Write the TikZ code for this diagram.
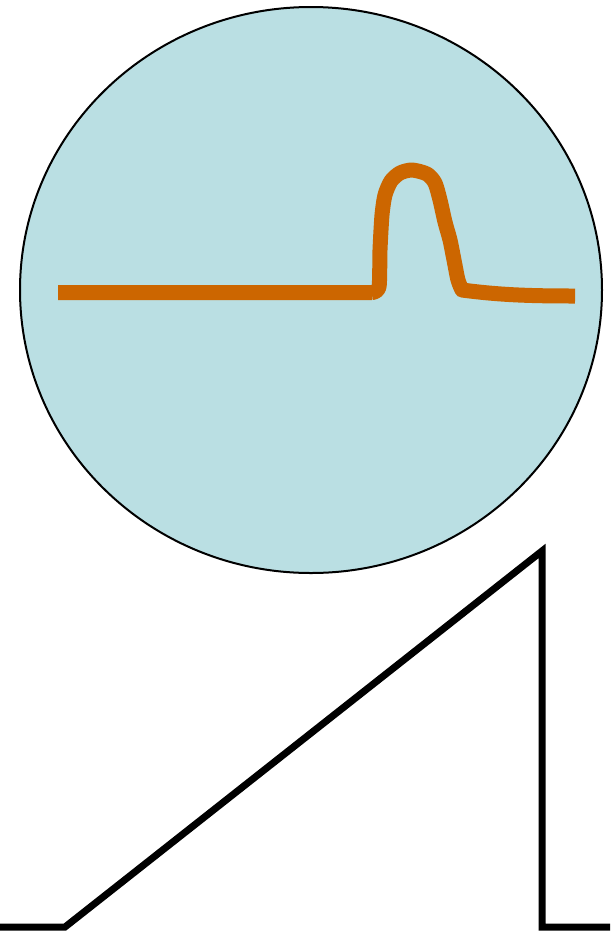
\documentclass[tikz,border=0pt]{standalone}
\usepackage{xcolor}
\usetikzlibrary{calc}
\definecolor{LensBlue}{RGB}{186,223,227}
\definecolor{PulseOrange}{RGB}{204,102,0}
\tikzset{
	signal/.style={line width=7.5pt, PulseOrange, line join=round},
	ramp/.style={line width=3.5pt, black, line join=miter}
}

\begin{document}
\begin{tikzpicture}[x=0.5pt, y=-0.5pt]
	\useasboundingbox (0,0) rectangle (615,933);
	% scope view
	\draw[fill=LensBlue, line width=1pt] (311,290) ellipse [x radius=291, y radius=283];
	\coordinate (sigstart) at (58,292.5);
	\coordinate (bumpstart) at (372,292.5);
	\coordinate (sigend) at (575,296);
	\draw[signal] (sigstart) -- (bumpstart)
		plot[smooth, tension=0.45] coordinates {(372,292.5) (379,287) (380,250) (382,215) (385,195) (391,181) (400,173) (412,170) (427,174) (435,183) (440,200) (445,222) (450,240) (454,260) (458,280) (462,290)}
		.. controls (500,295) and (530,296) .. (sigend);
	% sawtooth sweep
	\coordinate (rampleft) at (0,927);
	\coordinate (rampfoot) at (65,927);
	\coordinate (ramptop) at (542,551);
	\coordinate (rampbase) at (542,927);
	\coordinate (rampright) at (610,927);
	\draw[ramp] (rampleft) -- (rampfoot) -- (ramptop) -- (rampbase) -- (rampright);
\end{tikzpicture}
\end{document}
